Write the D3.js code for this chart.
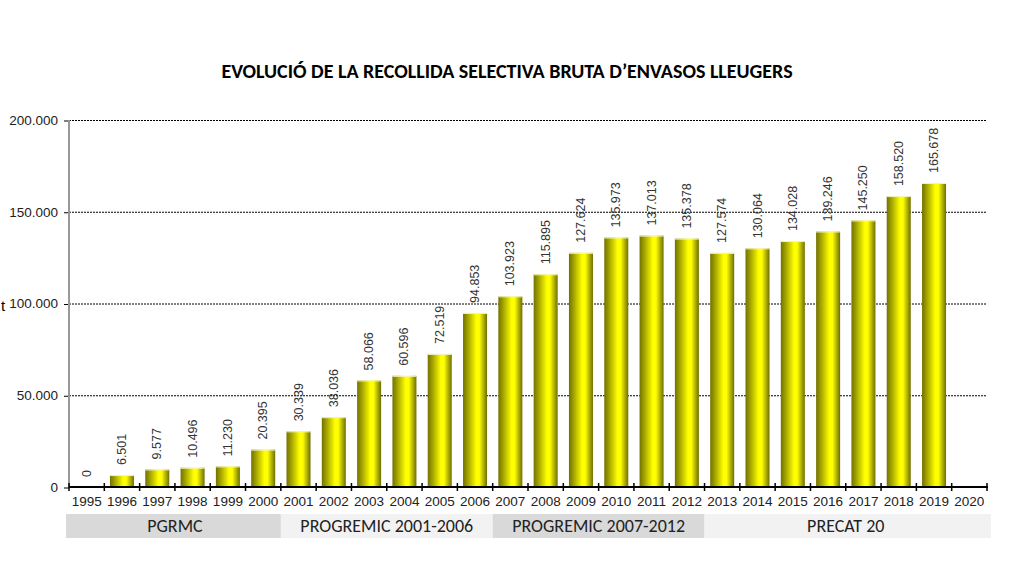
<!DOCTYPE html>
<html>
<head>
<meta charset="utf-8">
<script src="https://cdn.jsdelivr.net/npm/d3@7"></script>
<style>
  body { margin: 0; background: #fff; }
  svg { display: block; }
</style>
</head>
<body>
<svg id="chart" width="1017" height="562"></svg>
<script>
"use strict";

var years = ["1995", "1996", "1997", "1998", "1999", "2000", "2001", "2002", "2003", "2004", "2005", "2006", "2007",
  "2008", "2009", "2010", "2011", "2012", "2013", "2014", "2015", "2016", "2017", "2018", "2019", "2020"];
var tonnes = [0, 6501, 9577, 10496, 11230, 20395, 30339, 38036, 58066, 60596, 72519, 94853, 103923,
  115895, 127624, 135973, 137013, 135378, 127574, 130064, 134028, 139246, 145250, 158520, 165678, null];
var yTicks = [0, 50000, 100000, 150000, 200000];
var planNames = ["PGRMC", "PROGREMIC 2001-2006", "PROGREMIC 2007-2012", "PRECAT 20"];
var planFirstYear = ["1995", "2001", "2007", "2013"];
var planLastYear = ["2000", "2006", "2012", "2020"];

var TITLE = "EVOLUCIÓ DE LA RECOLLIDA SELECTIVA BRUTA D\u2019ENVASOS LLEUGERS";
var SANS = "'Liberation Sans', Arial, sans-serif";
var CAL = "Carlito, Lato, 'Open Sans', sans-serif";

var svg = d3.select("#chart");
var margin = { left: 69, right: 30, top: 120, bottom: 75 };
var width = 1017 - margin.left - margin.right;
var height = 562 - margin.top - margin.bottom;

var fmt = d3.formatLocale({ decimal: ",", thousands: ".", grouping: [3] }).format(",");

var x = d3.scaleBand().domain(years).range([0, width]).paddingInner(0.32).paddingOuter(0.16);
var y = d3.scaleLinear().domain([0, 200000]).range([height, 0]);
var step = x.step();
var edge = function (yr) { return x(yr) - x.paddingInner() * step / 2; };

// bar gradient
var defs = svg.append("defs");
var grad = defs.append("linearGradient").attr("id", "barFill").attr("x1", "0").attr("x2", "1").attr("y1", "0").attr("y2", "0");
grad.append("stop").attr("offset", "0").attr("stop-color", "#727200");
grad.append("stop").attr("offset", "0.2").attr("stop-color", "#a3a300");
grad.append("stop").attr("offset", "0.55").attr("stop-color", "#ffff00");
grad.append("stop").attr("offset", "0.68").attr("stop-color", "#ffff00");
grad.append("stop").attr("offset", "1").attr("stop-color", "#6e6e00");

svg.append("text")
  .attr("x", 507).attr("y", 78)
  .attr("text-anchor", "middle")
  .style("font-family", CAL).style("font-weight", "bold").style("font-size", "20px")
  .attr("fill", "#000")
  .text(TITLE);

var g = svg.append("g").attr("transform", "translate(" + margin.left + "," + margin.top + ")");

// grid lines
g.append("g")
  .selectAll("line")
  .data(yTicks.filter(function (d) { return d > 0; }))
  .enter()
  .append("line")
  .attr("x1", 0).attr("x2", width)
  .attr("y1", function (d) { return y(d) + 0.5; }).attr("y2", function (d) { return y(d) + 0.5; })
  .attr("stroke", "#000").attr("stroke-width", 1).attr("stroke-dasharray", "2,1");

// y axis
var yAxis = g.append("g")
  .call(d3.axisLeft(y).tickValues(yTicks).tickSize(5).tickPadding(6).tickFormat(fmt));
yAxis.select(".domain").remove();
yAxis.selectAll(".tick line").attr("stroke", "#000").attr("transform", "translate(0,0.5)");
yAxis.selectAll(".tick text").style("font-family", SANS).style("font-size", "13.5px").attr("fill", "#222");
g.append("line")
  .attr("x1", 0).attr("x2", 0).attr("y1", 0).attr("y2", height)
  .attr("stroke", "#999").attr("stroke-width", 2);

svg.append("text")
  .attr("x", 1).attr("y", 311)
  .style("font-family", SANS).style("font-size", "15px")
  .attr("fill", "#000")
  .text("t");

// bars
var data = years.map(function (yr, i) { return { year: yr, value: tonnes[i] }; })
  .filter(function (d) { return d.value !== null; });

g.append("g")
  .selectAll("rect")
  .data(data)
  .enter()
  .append("rect")
  .attr("x", function (d) { return x(d.year); })
  .attr("width", x.bandwidth())
  .attr("y", function (d) { return y(d.value); })
  .attr("height", function (d) { return height - y(d.value); })
  .attr("fill", "url(#barFill)");

g.append("g")
  .selectAll("line")
  .data(data.filter(function (d) { return d.value > 0; }))
  .enter()
  .append("line")
  .attr("x1", function (d) { return x(d.year); })
  .attr("x2", function (d) { return x(d.year) + x.bandwidth(); })
  .attr("y1", function (d) { return y(d.value) + 0.5; })
  .attr("y2", function (d) { return y(d.value) + 0.5; })
  .attr("stroke", "#f4f4c8").attr("stroke-width", 1);

// value labels
g.append("g")
  .selectAll("text")
  .data(data)
  .enter()
  .append("text")
  .attr("transform", function (d) {
    return "translate(" + (x(d.year) + x.bandwidth() / 2 + 4) + "," + (y(d.value) - 10) + ") rotate(-90)";
  })
  .style("font-family", SANS).style("font-size", "12.5px")
  .attr("fill", "#333")
  .text(function (d) { return fmt(d.value); });

// x axis
var xAxis = g.append("g")
  .attr("transform", "translate(0," + height + ")")
  .call(d3.axisBottom(x).tickSize(0).tickPadding(9));
xAxis.select(".domain").remove();
xAxis.selectAll(".tick text").style("font-family", SANS).style("font-size", "13.5px").attr("fill", "#222");

g.append("line")
  .attr("x1", 0).attr("x2", width + 1).attr("y1", height).attr("y2", height)
  .attr("stroke", "#000").attr("stroke-width", 2.2);

g.append("g")
  .selectAll("line")
  .data(years.concat(["end"]))
  .enter()
  .append("line")
  .attr("x1", function (d, i) { return i < years.length ? edge(d) : width; })
  .attr("x2", function (d, i) { return i < years.length ? edge(d) : width; })
  .attr("y1", height - 4).attr("y2", height + 4)
  .attr("stroke", "#000").attr("stroke-width", 1.5);

// plan bands
var plans = planNames.map(function (name, i) {
  return { name: name, from: planFirstYear[i], to: planLastYear[i], dark: i % 2 === 0 };
});
var bands = g.append("g").attr("transform", "translate(0," + (height + 27) + ")");
bands.selectAll("rect")
  .data(plans)
  .enter()
  .append("rect")
  .attr("x", function (d, i) { return i === 0 ? edge(d.from) - 3 : edge(d.from); })
  .attr("width", function (d, i) {
    var right = edge(d.to) + step;
    var left = i === 0 ? edge(d.from) - 3 : edge(d.from);
    return (i === plans.length - 1 ? right + 4 : right) - left;
  })
  .attr("y", 0).attr("height", 24)
  .attr("fill", function (d) { return d.dark ? "#d9d9d9" : "#f2f2f2"; });
bands.selectAll("text")
  .data(plans)
  .enter()
  .append("text")
  .attr("x", function (d) { return (edge(d.from) + edge(d.to) + step) / 2; })
  .attr("y", 18)
  .attr("text-anchor", "middle")
  .style("font-family", CAL).style("font-size", "18px")
  .attr("fill", "#222")
  .text(function (d) { return d.name; });
</script>
</body>
</html>
